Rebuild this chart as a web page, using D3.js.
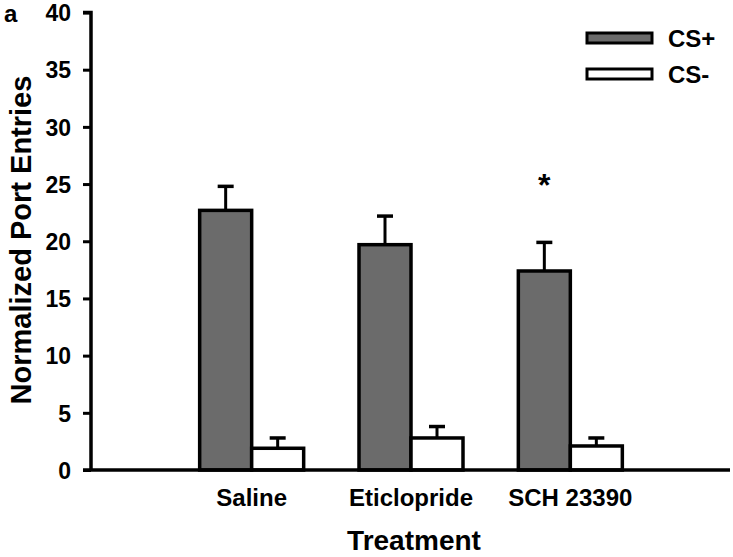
<!DOCTYPE html>
<html><head><meta charset="utf-8">
<script src="https://cdn.jsdelivr.net/npm/d3@7"></script>
<style>body{margin:0;background:#fff;} svg{display:block;} text{font-family:"Liberation Sans",Arial,sans-serif;font-weight:bold;}</style>
</head><body><svg id="c" width="733" height="557"></svg>
<script>
const categories = ["Saline", "Eticlopride", "SCH 23390"];
const series = ["CS+", "CS-"];
const csPlus = [22.7, 19.7, 17.4];
const csPlusErr = [2.1, 2.5, 2.5];
const csMinus = [1.9, 2.8, 2.1];
const csMinusErr = [0.9, 1.0, 0.7];
const yTicks = [0, 5, 10, 15, 20, 25, 30, 35, 40];
const significant = [false, false, true];
const colors = {"CS+": "#6b6b6b", "CS-": "#ffffff"};

const svg = d3.select("#c");
const axisX = 91, xEnd = 730, y0px = 470, y40px = 12.5;
const y = d3.scaleLinear().domain([0, 40]).range([y0px, y40px]);
const x = d3.scaleBand().domain(categories).range([172, 650]).paddingInner(0).paddingOuter(0);
const xs = d3.scaleBand().domain(series).range([0, 104]);

const data = categories.map((c, i) => ({
  cat: c,
  vals: [
    {s: "CS+", v: csPlus[i], e: csPlusErr[i]},
    {s: "CS-", v: csMinus[i], e: csMinusErr[i]}
  ],
  sig: significant[i]
}));

const g = svg.append("g");
const groups = g.selectAll(".grp").data(data).join("g")
  .attr("transform", d => `translate(${x(d.cat) + x.bandwidth()/2 - 52},0)`);

groups.selectAll(".err").data(d => d.vals).join("g").each(function(d) {
  const cx = xs(d.s) + xs.bandwidth()/2;
  const sel = d3.select(this);
  sel.append("line").attr("x1", cx).attr("x2", cx).attr("y1", y(d.v)).attr("y2", y(d.v + d.e))
    .attr("stroke", "#000").attr("stroke-width", 3);
  sel.append("line").attr("x1", cx - 8).attr("x2", cx + 8).attr("y1", y(d.v + d.e)).attr("y2", y(d.v + d.e))
    .attr("stroke", "#000").attr("stroke-width", 3.5);
});

groups.selectAll("rect").data(d => d.vals).join("rect")
  .attr("x", d => xs(d.s))
  .attr("width", xs.bandwidth())
  .attr("y", d => y(d.v))
  .attr("height", d => y(0) - y(d.v))
  .attr("fill", d => colors[d.s])
  .attr("stroke", "#000").attr("stroke-width", 3.5);

groups.filter(d => d.sig).append("text")
  .attr("x", xs("CS+") + xs.bandwidth()/2)
  .attr("y", d => y(d.vals[0].v + d.vals[0].e) - 46)
  .attr("text-anchor", "middle").attr("font-size", 32).text("*");

const yAxis = d3.axisLeft(y).tickValues(yTicks).tickSize(8).tickPadding(12);
const ya = svg.append("g").attr("transform", `translate(${axisX},0)`).call(yAxis);
ya.select(".domain").attr("stroke-width", 3.5).attr("d", `M-8,${y40px}H0V${y0px}`);
ya.selectAll(".tick line").attr("stroke-width", 3);
ya.selectAll(".tick text").attr("font-size", 23).attr("font-family", "Liberation Sans, Arial").attr("font-weight", "bold").attr("fill", "#000").attr("dy", "0.36em");

svg.append("line").attr("x1", axisX - 8).attr("x2", xEnd).attr("y1", y0px).attr("y2", y0px)
  .attr("stroke", "#000").attr("stroke-width", 3.5);

svg.selectAll(".xl").data(categories).join("text")
  .attr("x", d => x(d) + x.bandwidth()/2)
  .attr("y", 506)
  .attr("text-anchor", "middle").attr("font-size", 24).text(d => d);

svg.append("text").attr("x", 414).attr("y", 550).attr("text-anchor", "middle").attr("font-size", 28).text("Treatment");
svg.append("text").attr("transform", "translate(31,240) rotate(-90)").attr("text-anchor", "middle").attr("font-size", 29).text("Normalized Port Entries");
svg.append("text").attr("x", 4).attr("y", 22).attr("font-size", 24).text("a");

const leg = svg.append("g").selectAll("g").data(series).join("g")
  .attr("transform", (d, i) => `translate(587,${33 + i * 36})`);
leg.append("rect").attr("width", 65).attr("height", 10).attr("fill", d => colors[d]).attr("stroke", "#000").attr("stroke-width", 3);
leg.append("text").attr("x", 81).attr("y", 5).attr("dy", "0.36em").attr("font-size", 24).text(d => d);
</script></body></html>
